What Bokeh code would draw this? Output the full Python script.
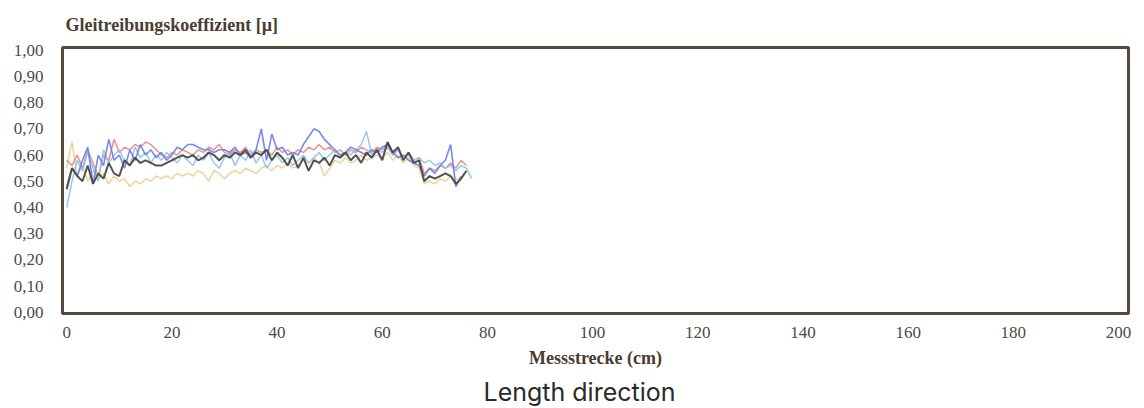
from bokeh.plotting import figure
from bokeh.models import Range1d, FixedTicker, CustomJSTickFormatter, Title
from bokeh.embed import file_html
from bokeh.resources import INLINE

# ---- data ----
x_ticks = [0, 20, 40, 60, 80, 100, 120, 140, 160, 180, 200]
y_ticks = [0.0, 0.1, 0.2, 0.3, 0.4, 0.5, 0.6, 0.7, 0.8, 0.9, 1.0]

yellow = [0.55, 0.65, 0.52, 0.56, 0.50, 0.54, 0.51, 0.53, 0.49, 0.52,
          0.50, 0.51, 0.48, 0.50, 0.49, 0.51, 0.50, 0.52, 0.51, 0.52,
          0.51, 0.53, 0.52, 0.53, 0.52, 0.54, 0.53, 0.50, 0.54, 0.53,
          0.51, 0.53, 0.54, 0.53, 0.55, 0.54, 0.53, 0.55, 0.56, 0.54,
          0.56, 0.55, 0.57, 0.55, 0.56, 0.58, 0.57, 0.59, 0.57, 0.52,
          0.55, 0.58, 0.57, 0.59, 0.57, 0.58, 0.60, 0.58, 0.59, 0.60,
          0.59, 0.61, 0.58, 0.60, 0.57, 0.59, 0.56, 0.55, 0.49, 0.50,
          0.49, 0.51, 0.50, 0.52, 0.51, 0.50]

red = [0.58, 0.56, 0.60, 0.55, 0.62, 0.57, 0.52, 0.60, 0.58, 0.66,
       0.61, 0.63, 0.62, 0.64, 0.63, 0.65, 0.64, 0.62, 0.60, 0.59,
       0.61, 0.60, 0.62, 0.61, 0.60, 0.62, 0.61, 0.63, 0.62, 0.64,
       0.61, 0.60, 0.62, 0.61, 0.63, 0.60, 0.62, 0.61, 0.62, 0.60,
       0.63, 0.61, 0.62, 0.60, 0.62, 0.61, 0.63, 0.62, 0.64, 0.62,
       0.63, 0.61, 0.62, 0.60, 0.62, 0.61, 0.63, 0.62, 0.61, 0.63,
       0.62, 0.64, 0.60, 0.62, 0.59, 0.61, 0.58, 0.59, 0.53, 0.55,
       0.54, 0.56, 0.55, 0.57, 0.55, 0.58, 0.56]

light_blue = [0.40, 0.50, 0.58, 0.54, 0.61, 0.55, 0.50, 0.62, 0.57, 0.60,
              0.62, 0.58, 0.56, 0.63, 0.59, 0.61, 0.57, 0.60, 0.58, 0.61,
              0.59, 0.57, 0.60, 0.58, 0.56, 0.60, 0.58, 0.61, 0.57, 0.55,
              0.59, 0.61, 0.56, 0.60, 0.58, 0.62, 0.57, 0.60, 0.55, 0.58,
              0.60, 0.57, 0.59, 0.56, 0.58, 0.60, 0.57, 0.59, 0.61, 0.58,
              0.60, 0.62, 0.59, 0.61, 0.60, 0.62, 0.64, 0.69, 0.60, 0.62,
              0.61, 0.63, 0.60, 0.62, 0.59, 0.60, 0.58, 0.59, 0.57, 0.58,
              0.56, 0.57, 0.55, 0.56, 0.54, 0.56, 0.55, 0.51]

blue = [0.48, 0.55, 0.52, 0.58, 0.63, 0.49, 0.60, 0.56, 0.66, 0.58,
        0.60, 0.55, 0.62, 0.58, 0.64, 0.60, 0.62, 0.59, 0.61, 0.58,
        0.60, 0.63, 0.62, 0.64, 0.64, 0.63, 0.62, 0.62, 0.61, 0.62,
        0.62, 0.61, 0.63, 0.60, 0.61, 0.59, 0.62, 0.70, 0.58, 0.68,
        0.62, 0.63, 0.60, 0.61, 0.60, 0.64, 0.67, 0.70, 0.69, 0.66,
        0.64, 0.62, 0.60, 0.61, 0.63, 0.62, 0.61, 0.60, 0.62, 0.61,
        0.63, 0.64, 0.61, 0.59, 0.60, 0.58, 0.57, 0.56, 0.52, 0.55,
        0.53, 0.56, 0.58, 0.64, 0.48, 0.52]

dark = [0.47, 0.55, 0.52, 0.50, 0.56, 0.49, 0.53, 0.51, 0.57, 0.53,
        0.52, 0.58, 0.56, 0.59, 0.57, 0.58, 0.57, 0.56, 0.56, 0.57,
        0.58, 0.59, 0.60, 0.59, 0.60, 0.58, 0.59, 0.61, 0.60, 0.58,
        0.60, 0.59, 0.61, 0.60, 0.62, 0.59, 0.61, 0.60, 0.62, 0.58,
        0.61, 0.59, 0.56, 0.60, 0.55, 0.59, 0.54, 0.58, 0.57, 0.59,
        0.56, 0.60, 0.59, 0.61, 0.58, 0.60, 0.57, 0.61, 0.59, 0.62,
        0.58, 0.65, 0.61, 0.63, 0.58, 0.61, 0.57, 0.58, 0.50, 0.52,
        0.51, 0.52, 0.53, 0.52, 0.49, 0.51, 0.54]

series = [
    (yellow, "#e8d394", 1.5),
    (red, "#ec8a86", 1.5),
    (light_blue, "#90c4ee", 1.5),
    (blue, "#6f86e4", 1.6),
    (dark, "#4a4a48", 2.0),
]

p = figure(frame_width=1066, frame_height=266, output_backend="svg",
           toolbar_location=None,
           x_range=Range1d(-0.8, 201.9), y_range=Range1d(-0.004, 1.01),
           min_border_left=62, min_border_right=6, min_border_top=45,
           min_border_bottom=2)

for ys, col, w in series:
    xs = list(range(len(ys)))
    p.line(xs, ys, line_color=col, line_width=w, line_alpha=0.95)

p.grid.visible = False
p.background_fill_color = "white"
p.border_fill_color = "white"
p.outline_line_color = "#56493c"
p.outline_line_width = 3

serif = "serif"

p.title.text = "Gleitreibungskoeffizient [\u00b5]"
p.title.align = "left"
p.title.text_font = serif
p.title.text_font_size = "18px"
p.title.text_font_style = "bold"
p.title.text_color = "#4a3c30"
p.title.offset = 3
p.title.standoff = 25

p.yaxis.ticker = FixedTicker(ticks=y_ticks)
p.yaxis.formatter = CustomJSTickFormatter(code="return tick.toFixed(2).replace('.', ',');")
p.xaxis.ticker = FixedTicker(ticks=x_ticks)

for ax in (p.xaxis[0], p.yaxis[0]):
    ax.axis_line_color = None
    ax.major_tick_line_color = None
    ax.minor_tick_line_color = None
    ax.major_label_text_font = serif
    ax.major_label_text_font_size = "17px"
    ax.major_label_text_color = "#4e4a46"

p.yaxis.major_label_standoff = 13
p.xaxis.major_label_standoff = 7

p.xaxis.axis_label = "Messstrecke (cm)"
p.xaxis.axis_label_text_font = serif
p.xaxis.axis_label_text_font_size = "18px"
p.xaxis.axis_label_text_font_style = "bold"
p.xaxis.axis_label_text_color = "#4a3c30"
p.xaxis.axis_label_standoff = 7

sub = Title(text="Length direction", align="left", text_font="Inter",
            text_font_size="25px", text_font_style="normal",
            text_color="#2a2a2a", offset=421, standoff=8)
p.add_layout(sub, "below")

open("out.html", "w").write(file_html(p, INLINE))
